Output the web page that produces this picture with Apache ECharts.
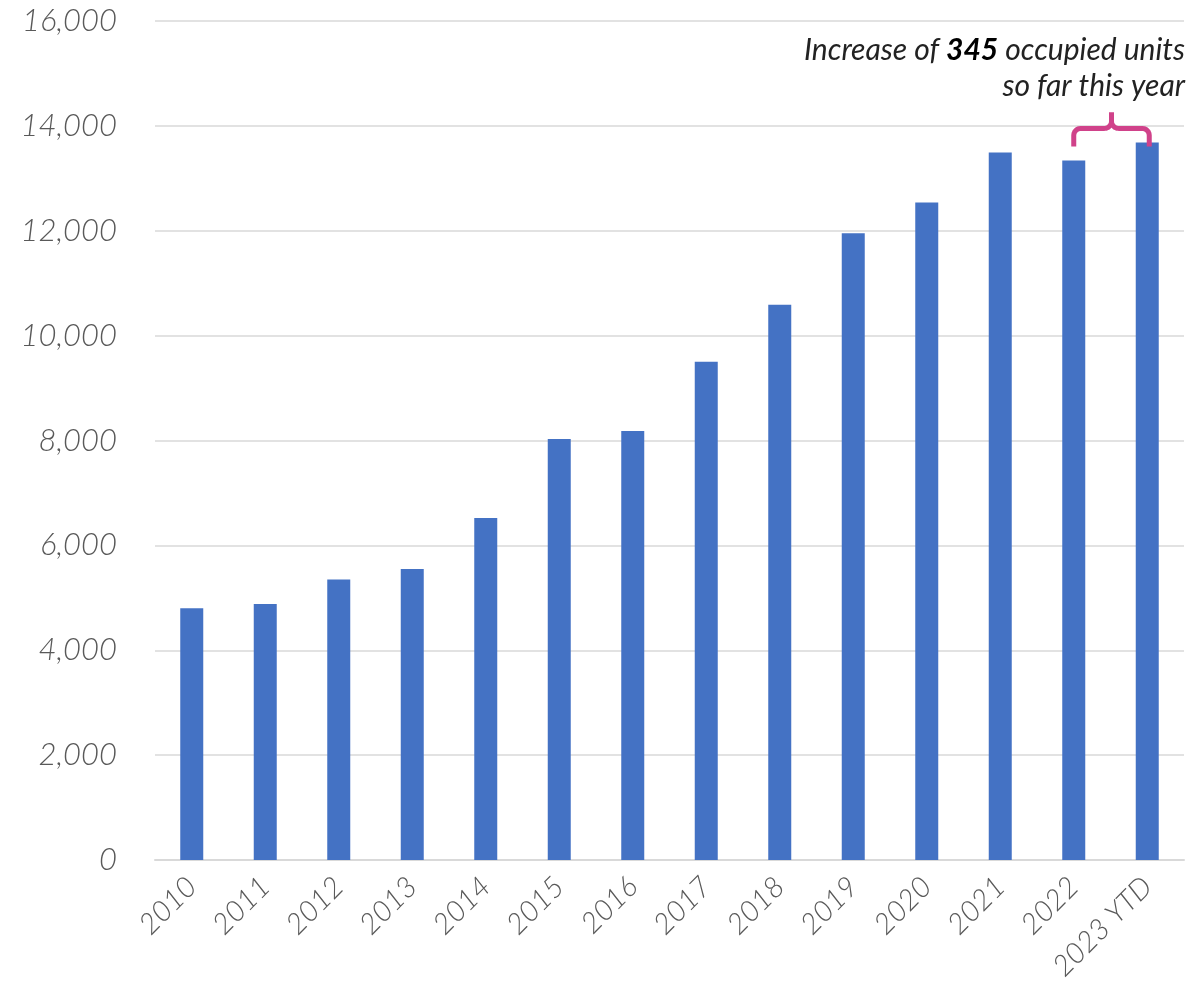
<!DOCTYPE html>
<html>
<head>
<meta charset="utf-8">
<script src="https://cdn.jsdelivr.net/npm/echarts@6/dist/echarts.min.js"></script>
<style>
html,body{margin:0;padding:0;background:#fff;}
#main{width:1191px;height:997px;}
</style>
</head>
<body>
<div id="main"></div>
<script>
const categories = ['2010','2011','2012','2013','2014','2015','2016','2017','2018','2019','2020','2021','2022','2023 YTD'];
const occupiedUnits = [4800, 4880, 5350, 5550, 6520, 8030, 8180, 9500, 10590, 11950, 12540, 13490, 13340, 13685];
const yTicks = {min: 0, max: 16000, interval: 2000};
const annotationIncrease = 345;

const FONT = 'Lato, "Open Sans", sans-serif';
const chart = echarts.init(document.getElementById('main'), null, {renderer: 'canvas'});

chart.setOption({
  animation: false,
  grid: {left: 155, right: 7, top: 21, bottom: 137, containLabel: false},
  xAxis: {
    type: 'category',
    data: categories,
    axisLine: {show: true, lineStyle: {color: '#d9d9d9', width: 2}},
    axisTick: {show: false},
    axisLabel: {
      rotate: 45, margin: 22, color: '#595959', fontSize: 29,
      fontFamily: FONT, fontStyle: 'italic', fontWeight: 300, interval: 0
    }
  },
  yAxis: {
    type: 'value',
    min: yTicks.min, max: yTicks.max, interval: yTicks.interval,
    axisLine: {show: false}, axisTick: {show: false},
    splitLine: {lineStyle: {color: '#d9d9d9', width: 1.5}},
    axisLabel: {
      margin: 38, color: '#595959', fontSize: 31,
      fontFamily: FONT, fontStyle: 'italic', fontWeight: 300,
      formatter: v => v.toLocaleString('en-US')
    }
  },
  series: [{
    type: 'bar',
    data: occupiedUnits,
    barWidth: 23,
    itemStyle: {color: '#4472C4'}
  }]
});

function arcPts(cx, cy, r, a0, a1, steps) {
  const pts = [];
  for (let i = 0; i <= steps; i++) {
    const a = a0 + (a1 - a0) * i / steps;
    pts.push([cx + r * Math.cos(a), cy + r * Math.sin(a)]);
  }
  return pts;
}

function addAnnotation() {
  const n = categories.length;
  const pL = chart.convertToPixel({seriesIndex: 0}, [n - 2, occupiedUnits[n - 1]]);
  const pR = chart.convertToPixel({seriesIndex: 0}, [n - 1, occupiedUnits[n - 1]]);
  const xl = pL[0], xr = pR[0] + 2;
  const yTop = pR[1] - 14;
  const yLeg = pR[1] + 4;
  const xm = (xl + xr) / 2;
  const r = 7;
  const PI = Math.PI;
  let pts = [[xl, yLeg]];
  pts = pts.concat(arcPts(xl + r, yTop + r, r, PI, 1.5 * PI, 6));
  pts = pts.concat(arcPts(xm - r, yTop - r, r, 0.5 * PI, 0, 6));
  pts.push([xm, yTop - 16]);
  let pts2 = [[xm, yTop - 16]];
  pts2 = pts2.concat(arcPts(xm + r, yTop - r, r, PI, 0.5 * PI, 6));
  pts2 = pts2.concat(arcPts(xr - r, yTop + r, r, 1.5 * PI, 2 * PI, 6));
  pts2.push([xr, yLeg]);
  const lineStyle = {fill: null, stroke: '#D0428A', lineWidth: 5, lineJoin: 'round'};
  chart.setOption({
    graphic: [
      {type: 'polyline', z: 100, shape: {points: pts}, style: lineStyle},
      {type: 'polyline', z: 100, shape: {points: pts2}, style: lineStyle},
      {
        type: 'text', z: 100,
        right: 6, top: 35,
        style: {
          text: '{n|Increase of }{b|' + annotationIncrease + '}{n| occupied units}\n{n|so far this year}',
          align: 'right',
          rich: {
            n: {fontSize: 30, fontFamily: FONT, fontStyle: 'italic', fontWeight: 400, fill: '#222', lineHeight: 36, align: 'right'},
            b: {fontSize: 30, fontFamily: FONT, fontStyle: 'italic', fontWeight: 'bold', fill: '#000', lineHeight: 36}
          }
        }
      }
    ]
  });
}
addAnnotation();
</script>
</body>
</html>
